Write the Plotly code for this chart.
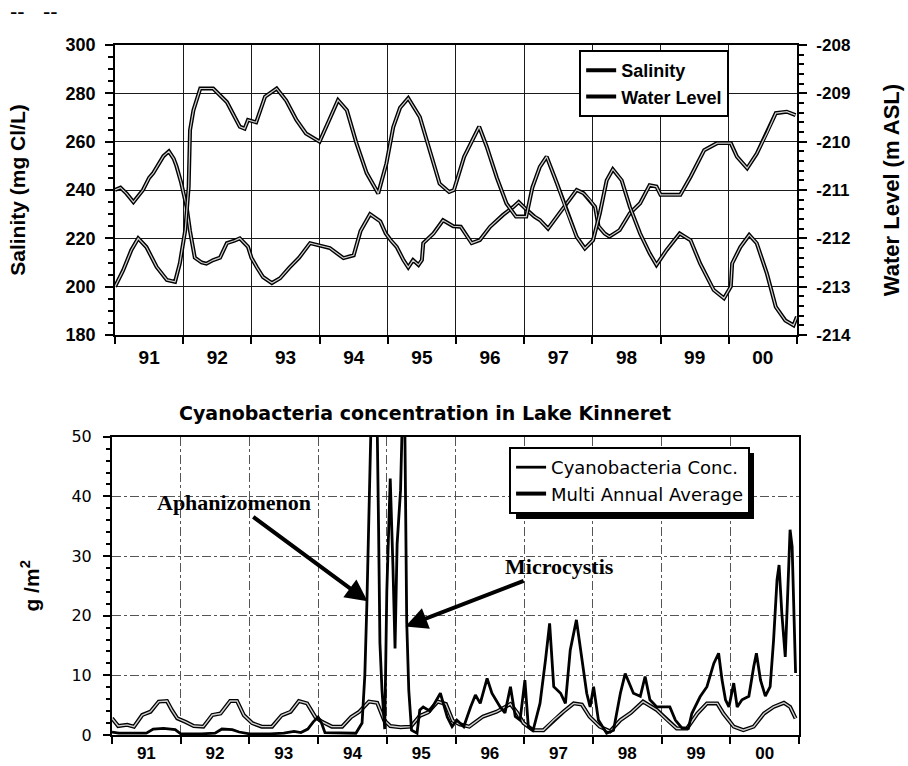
import plotly.graph_objects as go

# ---------------- data : top chart ----------------
sal_t = [1991.0, 1991.08, 1991.17, 1991.27, 1991.41, 1991.5, 1991.56, 1991.64, 1991.71, 1991.79,
         1991.86, 1991.9, 1991.97, 1992.05, 1992.1, 1992.17, 1992.27, 1992.34, 1992.44, 1992.54,
         1992.64, 1992.75, 1992.83, 1992.95, 1993.0, 1993.08, 1993.17, 1993.3, 1993.42, 1993.56,
         1993.7, 1993.86, 1994.0, 1994.15, 1994.35, 1994.5, 1994.6, 1994.74, 1994.89, 1994.97,
         1995.05, 1995.13, 1995.23, 1995.3, 1995.37, 1995.45, 1995.5, 1995.52, 1995.67, 1995.81,
         1995.96, 1996.07, 1996.23, 1996.35, 1996.5, 1996.69, 1996.84, 1996.92, 1997.03, 1997.15,
         1997.23, 1997.35, 1997.48, 1997.62, 1997.77, 1997.87, 1997.96, 1998.04, 1998.09, 1998.18,
         1998.25, 1998.4, 1998.55, 1998.7, 1998.84, 1998.94, 1999.0, 1999.15, 1999.29, 1999.44,
         1999.54, 1999.64, 1999.83, 2000.03, 2000.12, 2000.27, 2000.41, 2000.56, 2000.69, 2000.85,
         2000.98]
salinity = [240, 241, 238.5, 235, 240, 245, 247, 251, 254, 256,
            253, 250, 243, 233, 223, 212, 210, 209.5, 211, 212,
            218, 219, 220, 216.5, 212, 208, 204, 201.5, 203.5, 208,
            212, 218, 217, 216, 211.8, 213, 223, 230, 227, 222,
            219, 216.5, 211, 208, 211, 209, 211, 218, 222, 227.5,
            225, 224.8, 218, 219.3, 224.8, 229.7, 233, 235, 232, 229,
            227.6, 224, 229, 234.5, 240, 238.7, 236, 233, 225, 222,
            220.7, 223.4, 230.4, 234.5, 242, 241.4, 238, 238, 238, 245.5,
            251, 256.5, 259.4, 259.4, 253.8, 249, 255, 263.6, 271.8, 272.4,
            271]

wl_t = [1991.0, 1991.12, 1991.24, 1991.34, 1991.46, 1991.61, 1991.76, 1991.88, 1991.95, 1992.03,
        1992.08, 1992.1, 1992.15, 1992.25, 1992.44, 1992.64, 1992.83, 1992.9, 1992.95, 1993.07,
        1993.2, 1993.37, 1993.51, 1993.66, 1993.8, 1994.0, 1994.12, 1994.27, 1994.4, 1994.54,
        1994.69, 1994.86, 1994.98, 1995.08, 1995.18, 1995.3, 1995.47, 1995.62, 1995.76, 1995.9,
        1995.97, 1996.12, 1996.34, 1996.45, 1996.6, 1996.74, 1996.88, 1997.03, 1997.12, 1997.23,
        1997.33, 1997.48, 1997.62, 1997.77, 1997.89, 1998.01, 1998.11, 1998.21, 1998.3, 1998.43,
        1998.55, 1998.7, 1998.84, 1998.94, 1999.09, 1999.28, 1999.44, 1999.58, 1999.78, 1999.93,
        2000.03, 2000.05, 2000.17, 2000.3, 2000.41, 2000.56, 2000.69, 2000.83, 2000.95, 2001.0]
water_level = [-213.00, -212.66, -212.24, -212.00, -212.18, -212.59, -212.86, -212.90, -212.52, -211.83,
               -210.93, -209.76, -209.35, -208.90, -208.90, -209.18, -209.69, -209.73, -209.55, -209.60,
               -209.07, -208.90, -209.15, -209.55, -209.83, -210.00, -209.62, -209.14, -209.35, -210.03,
               -210.65, -211.07, -210.45, -209.70, -209.30, -209.10, -209.49, -210.18, -210.87, -211.04,
               -211.00, -210.31, -209.69, -210.10, -210.75, -211.28, -211.55, -211.55, -210.95, -210.52,
               -210.31, -210.86, -211.42, -211.97, -212.21, -212.04, -211.48, -210.80, -210.57, -210.80,
               -211.35, -211.90, -212.31, -212.55, -212.24, -211.90, -212.04, -212.52, -213.07, -213.24,
               -213.00, -212.52, -212.18, -211.93, -212.10, -212.73, -213.42, -213.70, -213.80, -213.62]

# ---------------- data : bottom chart ----------------
cyano_t = [1991.0, 1991.1, 1991.3, 1991.5, 1991.6, 1991.75, 1991.92, 1992.0, 1992.3, 1992.5,
           1992.6, 1992.75, 1992.85, 1993.0, 1993.3, 1993.5, 1993.65, 1993.75, 1993.85, 1993.93,
           1994.0, 1994.05, 1994.1, 1994.3, 1994.55, 1994.64, 1994.68, 1994.71, 1994.74, 1994.77,
           1994.82, 1994.86, 1994.88, 1994.9, 1994.93, 1994.97, 1995.0, 1995.05, 1995.09, 1995.12,
           1995.15, 1995.2, 1995.23, 1995.26, 1995.29, 1995.32, 1995.36, 1995.44, 1995.48, 1995.53,
           1995.63, 1995.78, 1995.88, 1995.95, 1996.02, 1996.12, 1996.22, 1996.29, 1996.36, 1996.46,
           1996.53, 1996.65, 1996.72, 1996.8, 1996.87, 1996.94, 1997.01, 1997.06, 1997.13, 1997.23,
           1997.31, 1997.37, 1997.43, 1997.53, 1997.6, 1997.67, 1997.76, 1997.84, 1997.91, 1997.96,
           1998.01, 1998.08, 1998.2, 1998.3, 1998.4, 1998.47, 1998.59, 1998.69, 1998.76, 1998.83,
           1998.93, 1999.12, 1999.2, 1999.3, 1999.39, 1999.44, 1999.56, 1999.66, 1999.76, 1999.83,
           1999.88, 1999.93, 1999.98, 2000.05, 2000.1, 2000.17, 2000.27, 2000.34, 2000.38, 2000.44,
           2000.51, 2000.58, 2000.63, 2000.68, 2000.71, 2000.75, 2000.8, 2000.83, 2000.87, 2000.9,
           2000.95]
cyano = [0.5, 0.3, 0.3, 0.3, 1.0, 1.1, 0.9, 0.2, 0.2, 0.3,
         1.0, 0.9, 0.5, 0.2, 0.2, 0.3, 0.6, 0.4, 1.0, 2.2,
         3.0, 2.0, 0.4, 0.3, 0.3, 2.0, 10, 22, 36, 52,
         60, 52, 35, 15.4, 7.5, 1.0, 24, 43, 28, 14.5,
         32, 41, 55, 55, 19, 7.5, 0.8, 0.3, 4.2, 4.7,
         4.0, 7.0, 3.0, 1.4, 2.5, 1.4, 4.7, 6.7, 5.3, 9.5,
         7.0, 4.7, 3.7, 8.1, 3.1, 2.5, 9.2, 1.4, 0.8, 5.3,
         12.6, 18.7, 8.1, 7.0, 5.3, 14.2, 19.3, 12.6, 7.0, 4.7,
         8.1, 2.5, 0.3, 0.8, 7.0, 10.3, 7.0, 6.5, 9.8, 5.9,
         4.7, 4.7, 2.5, 1.1, 1.1, 3.6, 6.4, 8.1, 12.0, 13.7,
         9.2, 5.9, 4.7, 8.7, 4.7, 5.9, 6.5, 11.4, 13.7, 9.2,
         6.5, 8.1, 15.9, 26, 28.5, 20.4, 13.1, 22, 34.4, 31.6,
         10.4]

avg_t = [1991.0, 1991.09, 1991.22, 1991.32, 1991.44, 1991.56, 1991.68, 1991.8, 1991.87, 1991.95,
         1992.07, 1992.19, 1992.33, 1992.46, 1992.58, 1992.72, 1992.82, 1992.92,
         1993.04, 1993.18, 1993.33, 1993.47, 1993.6, 1993.72, 1993.84, 1993.96,
         1994.06, 1994.2, 1994.35, 1994.48, 1994.6, 1994.74, 1994.86, 1994.96,
         1995.05, 1995.2, 1995.35, 1995.48, 1995.6, 1995.74, 1995.86, 1995.96,
         1996.06, 1996.2, 1996.4, 1996.6, 1996.8, 1996.9, 1996.99,
         1997.13, 1997.28, 1997.43, 1997.57, 1997.72, 1997.84, 1997.95,
         1998.1, 1998.25, 1998.4, 1998.55, 1998.73, 1998.93,
         1999.08, 1999.22, 1999.37, 1999.52, 1999.66, 1999.81, 1999.9,
         2000.05, 2000.19, 2000.34, 2000.49, 2000.63, 2000.78, 2000.87, 2000.95]
avg = [2.8, 1.5, 1.7, 1.4, 3.35, 3.9, 5.6, 5.7, 4.2, 2.8,
       2.2, 1.5, 1.4, 3.35, 3.6, 5.7, 5.7, 3.3,
       2.0, 1.4, 1.4, 3.3, 3.9, 5.7, 5.3, 3.0,
       2.2, 1.4, 1.4, 3.0, 3.9, 5.6, 5.4, 2.5,
       1.5, 1.3, 1.4, 3.2, 3.8, 5.6, 5.2, 2.4,
       1.8, 1.4, 3.1, 3.9, 5.2, 3.7, 2.0,
       0.8, 0.8, 2.5, 3.9, 5.3, 5.1, 3.1,
       1.4, 0.6, 2.5, 3.7, 5.6, 4.2,
       2.5, 1.1, 1.1, 3.6, 5.3, 5.3, 3.6,
       1.4, 0.8, 1.4, 3.6, 4.7, 5.4, 4.7, 2.8]

# ---------------- tick labels ----------------
year_bounds = [1991, 1992, 1993, 1994, 1995, 1996, 1997, 1998, 1999, 2000, 2001]
year_mids = [1991.5, 1992.5, 1993.5, 1994.5, 1995.5, 1996.5, 1997.5, 1998.5, 1999.5, 2000.5]
year_labels = ["91", "92", "93", "94", "95", "96", "97", "98", "99", "00"]
wl_ticks = [-214, -213, -212, -211, -210, -209, -208]
wl_labels = ["-214", "-213", "-212", "-211", "-210", "-209", "-208"]

BOLD = dict(family="Liberation Sans", color="black", weight="bold")
INNER = "#cfcfcf"

fig = go.Figure()

# top chart (hollow lines: black outline + light core)
fig.add_trace(go.Scatter(x=sal_t, y=salinity, mode="lines", name="Salinity",
                         line=dict(color="black", width=4), xaxis="x", yaxis="y", legend="legend"))
fig.add_trace(go.Scatter(x=sal_t, y=salinity, mode="lines", showlegend=False, hoverinfo="skip",
                         line=dict(color=INNER, width=1.2), xaxis="x", yaxis="y"))
fig.add_trace(go.Scatter(x=wl_t, y=water_level, mode="lines", name="Water Level",
                         line=dict(color="black", width=4), xaxis="x", yaxis="y2", legend="legend"))
fig.add_trace(go.Scatter(x=wl_t, y=water_level, mode="lines", showlegend=False, hoverinfo="skip",
                         line=dict(color=INNER, width=1.2), xaxis="x", yaxis="y2"))

# bottom chart
fig.add_trace(go.Scatter(x=avg_t, y=avg, mode="lines", name="Multi Annual Average",
                         line=dict(color="black", width=4), xaxis="x2", yaxis="y3", legend="legend2"))
fig.add_trace(go.Scatter(x=avg_t, y=avg, mode="lines", showlegend=False, hoverinfo="skip",
                         line=dict(color=INNER, width=1.4), xaxis="x2", yaxis="y3"))
fig.add_trace(go.Scatter(x=cyano_t, y=cyano, mode="lines", name="Cyanobacteria Conc.",
                         line=dict(color="black", width=2.8), xaxis="x2", yaxis="y3", legend="legend2"))

xcommon = dict(range=[1991, 2001], tickmode="array", tickvals=year_mids, ticktext=year_labels,
               ticks="outside", tickcolor="rgba(0,0,0,0)", showgrid=False, zeroline=False,
               showline=True, linecolor="black", linewidth=2, mirror=True, automargin=False)

fig.update_layout(
    template="none",
    width=908, height=766,
    margin=dict(l=112, r=109, t=45, b=31, autoexpand=False),
    paper_bgcolor="white", plot_bgcolor="white",
    showlegend=True,
    xaxis=dict(domain=[0.0044, 0.997], anchor="y", ticklen=4,
               tickfont=dict(size=19, **BOLD),
               minor=dict(tickvals=year_bounds, ticks="outside", ticklen=7, tickcolor="black",
                          tickwidth=2, showgrid=True, gridcolor="#1a1a1a", gridwidth=1.2),
               **xcommon),
    yaxis=dict(domain=[0.5797, 1], range=[180, 300], tick0=180, dtick=20, anchor="x",
               ticks="outside", ticklen=8, tickwidth=2, tickcolor="black",
               minor=dict(dtick=5, ticks="outside", ticklen=5, tickcolor="black", showgrid=False),
               showgrid=True, gridcolor="#1a1a1a", gridwidth=1.2, zeroline=False,
               showline=True, linecolor="black", linewidth=2, automargin=False,
               tickfont=dict(size=18, **BOLD), ticklabelstandoff=6,
               title=dict(text="Salinity (mg Cl/L)", font=dict(size=21, **BOLD), standoff=34)),
    yaxis2=dict(overlaying="y", side="right", anchor="x", range=[-214, -208],
                tickmode="array", tickvals=wl_ticks, ticktext=wl_labels,
                ticks="outside", ticklen=8, tickwidth=2, tickcolor="black",
                minor=dict(tick0=-214, dtick=0.2, ticks="outside", ticklen=5, tickcolor="black",
                           showgrid=False),
                showgrid=False, zeroline=False, showline=True, linecolor="black", linewidth=2,
                automargin=False,
                tickfont=dict(size=17, **BOLD), ticklabelstandoff=6,
                title=dict(text="Water Level (m ASL)", font=dict(size=22, **BOLD), standoff=34)),
    xaxis2=dict(domain=[0, 1], anchor="y3", ticklen=2,
                tickfont=dict(size=17, **BOLD),
                minor=dict(tickvals=year_bounds, ticks="outside", ticklen=7, tickcolor="black",
                           tickwidth=2, showgrid=True, gridcolor="#555555", gridwidth=1,
                           griddash="dashdot"),
                **xcommon),
    yaxis3=dict(domain=[0, 0.4323], range=[0, 50], dtick=10, anchor="x2",
                ticks="outside", ticklen=7, tickwidth=2, tickcolor="black",
                minor=dict(dtick=2, ticks="outside", ticklen=4, tickcolor="black", showgrid=False),
                showgrid=True, gridcolor="#555555", gridwidth=1, griddash="dashdot", zeroline=False,
                showline=True, linecolor="black", linewidth=2, mirror=True, automargin=False,
                tickfont=dict(size=16, family="DejaVu Sans", color="black"), ticklabelstandoff=8,
                title=dict(text="g /m<sup>2</sup>", font=dict(size=21, **BOLD), standoff=26)),
    legend=dict(x=0.680, y=0.9928, xanchor="left", yanchor="top", bgcolor="white",
                bordercolor="black", borderwidth=2, font=dict(size=18, **BOLD),
                traceorder="normal", itemwidth=30),
    legend2=dict(x=0.578, y=0.4174, xanchor="left", yanchor="top", bgcolor="white",
                 bordercolor="black", borderwidth=2,
                 font=dict(size=18, family="DejaVu Sans", color="black"),
                 traceorder="reversed", itemwidth=30),
)

# drop shadow behind the lower legend box
fig.add_shape(type="rect", xref="paper", yref="paper", x0=0.5881, x1=0.9345, y0=0.3130, y1=0.4087,
              fillcolor="black", line=dict(width=0), layer="above")

annos = [
    dict(text="Cyanobacteria concentration in Lake Kinneret", xref="paper", yref="paper",
         x=0.456, y=0.4667, showarrow=False, xanchor="center", yanchor="middle",
         font=dict(size=19, family="DejaVu Sans", color="black", weight="bold")),
    dict(text="Aphanizomenon", xref="x2", yref="y3", x=1994.72, y=22.4, axref="x2", ayref="y3",
         ax=1992.78, ay=38.9, showarrow=True, arrowhead=2, arrowsize=1.1, arrowwidth=4,
         arrowcolor="black",
         font=dict(size=22, family="Liberation Serif", color="black", weight="bold")),
    dict(text="Microcystis", xref="x2", yref="y3", x=1995.27, y=18.2, axref="x2", ayref="y3",
         ax=1997.52, ay=28.2, showarrow=True, arrowhead=2, arrowsize=1.1, arrowwidth=4,
         arrowcolor="black",
         font=dict(size=22, family="Liberation Serif", color="black", weight="bold")),
    dict(text="--   --", xref="paper", yref="paper", x=-0.151, y=1.048, showarrow=False,
         xanchor="left", yanchor="middle", font=dict(size=22, family="Liberation Sans", color="black")),
]
fig.update_layout(annotations=annos)

fig.write_html("out.html", config={"displayModeBar": False},
               post_script="document.body.style.margin='0';")
